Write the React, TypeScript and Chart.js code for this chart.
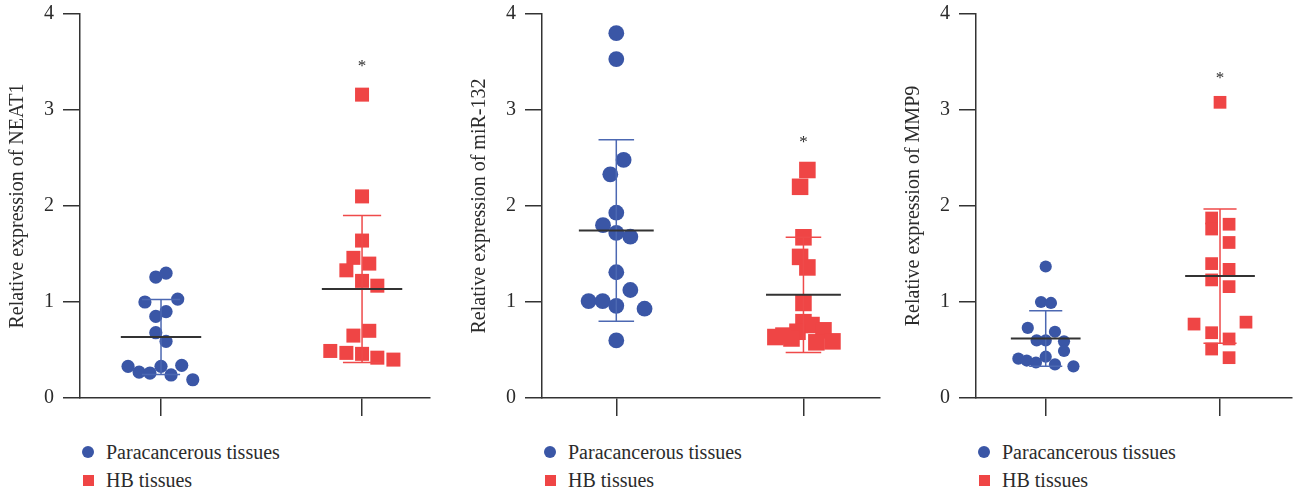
import React, { useEffect, useRef } from "react";
import { Chart, registerables } from "chart.js";

Chart.register(...registerables);

// ---------- data ----------
const groups = ["Paracancerous tissues", "HB tissues"];
const categories = [1, 2];
const yTickValues = [0, 1, 2, 3, 4];
const yTitles = ["Relative expression of NEAT1", "Relative expression of miR-132", "Relative expression of MMP9"];

// NEAT1
const neat1Para = [1.26, 1.3, 1.0, 1.03, 0.85, 0.9, 0.68, 0.59, 0.33, 0.27, 0.26, 0.33, 0.24, 0.34, 0.19];
const neat1ParaSpread = [-0.026, 0.025, -0.08, 0.083, -0.026, 0.025, -0.026, 0.025, -0.164, -0.109, -0.055, 0, 0.05, 0.103, 0.158];
const neat1HB = [3.16, 2.1, 1.64, 1.46, 1.4, 1.33, 1.22, 1.17, 0.7, 0.65, 0.49, 0.47, 0.46, 0.42, 0.4];
const neat1HBSpread = [0, 0, 0, -0.043, 0.036, -0.078, 0, 0.076, 0.036, -0.043, -0.158, -0.078, 0, 0.076, 0.156];
const neat1Mean = [0.635, 1.135];
const neat1SD = [0.39, 0.765];
const neat1Star = 3.49;

// miR-132
const mir132Para = [3.8, 3.53, 2.48, 2.33, 1.93, 1.8, 1.72, 1.68, 1.31, 1.125, 1.01, 1.01, 0.96, 0.93, 0.6];
const mir132ParaSpread = [0, 0, 0.039, -0.032, 0, -0.071, 0, 0.075, 0, 0.075, -0.148, -0.073, 0, 0.151, 0];
const mir132HB = [2.375, 2.2, 1.674, 1.47, 1.36, 0.99, 0.79, 0.76, 0.705, 0.69, 0.635, 0.62, 0.58, 0.59, 0.65];
const mir132HBSpread = [0.021, -0.018, 0, -0.018, 0.021, 0, 0, 0.043, 0.107, -0.032, -0.15, -0.064, 0.069, 0.155, -0.107];
const mir132Mean = [1.745, 1.075];
const mir132SD = [0.945, 0.6];
const mir132Star = 2.7;

// MMP9
const mmp9Para = [1.37, 1.0, 0.99, 0.73, 0.69, 0.6, 0.6, 0.59, 0.49, 0.41, 0.39, 0.37, 0.43, 0.35, 0.33];
const mmp9ParaSpread = [0, -0.027, 0.03, -0.103, 0.053, -0.052, 0, 0.105, 0.105, -0.157, -0.109, -0.056, 0, 0.053, 0.159];
const mmp9HB = [3.08, 1.875, 1.76, 1.81, 1.62, 1.4, 1.34, 1.23, 1.16, 0.77, 0.79, 0.68, 0.615, 0.51, 0.42];
const mmp9HBSpread = [0, -0.048, -0.048, 0.052, 0.052, -0.048, 0.052, -0.048, 0.052, -0.149, 0.149, -0.048, 0.052, -0.048, 0.052];
const mmp9Mean = [0.62, 1.27];
const mmp9SD = [0.29, 0.7];
const mmp9Star = 3.36;

// ---------- styling / layout ----------
const FONT = "'Liberation Serif', 'Times New Roman', serif";
const BLUE = "#3A56A6";
const RED = "#EF4545";
const BAR_COLORS = ["#4C68B2", "#EF4A4A"];
const AXIS = "#333333";
const TEXT = "#2b2b2b";
const FONT_SIZE = 20;

type PanelSpec = {
  title: string;
  para: number[];
  paraSpread: number[];
  hb: number[];
  hbSpread: number[];
  mean: number[];
  sd: number[];
  star: number;
  left: number;
  plotW: number;
  xMin: number;
  xMax: number;
  circleR: number;
  rectR: number;
};

const panels: PanelSpec[] = [
  { title: yTitles[0], para: neat1Para, paraSpread: neat1ParaSpread, hb: neat1HB, hbSpread: neat1HBSpread, mean: neat1Mean, sd: neat1SD, star: neat1Star, left: 0, plotW: 350, xMin: 0.597, xMax: 2.338, circleR: 6.6, rectR: 9.9 },
  { title: yTitles[1], para: mir132Para, paraSpread: mir132ParaSpread, hb: mir132HB, hbSpread: mir132HBSpread, mean: mir132Mean, sd: mir132SD, star: mir132Star, left: 462, plotW: 338, xMin: 0.603, xMax: 2.409, circleR: 7.9, rectR: 11.7 },
  { title: yTitles[2], para: mmp9Para, paraSpread: mmp9ParaSpread, hb: mmp9HB, hbSpread: mmp9HBSpread, mean: mmp9Mean, sd: mmp9SD, star: mmp9Star, left: 896, plotW: 316, xMin: 0.6, xMax: 2.413, circleR: 6.1, rectR: 9.0 },
];

const CANVAS_H = 420;
const AREA_LEFT = 80;
const AREA_TOP = 14;
const AREA_BOTTOM = 398;
const PAD_RIGHT = 2;

function zeroPadding(s: any) {
  s.paddingTop = 0;
  s.paddingBottom = 0;
  s.paddingLeft = 0;
  s.paddingRight = 0;
}

function makeSummaryPlugin(p: PanelSpec) {
  return {
    id: "summaryLines",
    afterDatasetsDraw(chart: any) {
      const xs = chart.scales.x;
      const ys = chart.scales.y;
      const ctx = chart.ctx;
      ctx.save();
      categories.forEach((c, i) => {
        const m = p.mean[i];
        const s = p.sd[i];
        const xc = xs.getPixelForValue(c);
        const capL = xs.getPixelForValue(c - 0.095);
        const capR = xs.getPixelForValue(c + 0.095);
        const yTop = ys.getPixelForValue(m + s);
        const yBot = ys.getPixelForValue(m - s);
        ctx.strokeStyle = BAR_COLORS[i];
        ctx.lineWidth = 1.5;
        ctx.beginPath();
        ctx.moveTo(xc, yTop);
        ctx.lineTo(xc, yBot);
        ctx.moveTo(capL, yTop);
        ctx.lineTo(capR, yTop);
        ctx.moveTo(capL, yBot);
        ctx.lineTo(capR, yBot);
        ctx.stroke();
        const ym = ys.getPixelForValue(m);
        ctx.strokeStyle = AXIS;
        ctx.lineWidth = 2;
        ctx.beginPath();
        ctx.moveTo(xs.getPixelForValue(c - 0.2), ym);
        ctx.lineTo(xs.getPixelForValue(c + 0.2), ym);
        ctx.stroke();
      });
      // significance star over HB group
      ctx.fillStyle = TEXT;
      ctx.font = `17px ${FONT}`;
      ctx.textAlign = "center";
      ctx.textBaseline = "alphabetic";
      ctx.fillText("*", xs.getPixelForValue(categories[1]), ys.getPixelForValue(p.star) + 8);
      ctx.restore();
    },
  };
}

function makeConfig(p: PanelSpec): any {
  return {
    type: "scatter",
    data: {
      datasets: [
        {
          label: groups[0],
          data: p.para.map((v, i) => ({ x: categories[0] + p.paraSpread[i], y: v })),
          pointStyle: "circle",
          pointRadius: p.circleR,
          backgroundColor: BLUE,
          borderWidth: 0,
        },
        {
          label: groups[1],
          data: p.hb.map((v, i) => ({ x: categories[1] + p.hbSpread[i], y: v })),
          pointStyle: "rect",
          pointRadius: p.rectR,
          backgroundColor: RED,
          borderWidth: 0,
        },
      ],
    },
    options: {
      responsive: false,
      animation: false,
      layout: {
        autoPadding: false,
        padding: { top: AREA_TOP, right: PAD_RIGHT, bottom: CANVAS_H - AREA_BOTTOM - 20, left: 0 },
      },
      plugins: { legend: { display: false }, tooltip: { enabled: false } },
      events: [],
      scales: {
        x: {
          type: "linear",
          min: p.xMin,
          max: p.xMax,
          afterBuildTicks: (s: any) => {
            s.ticks = categories.map((v) => ({ value: v }));
          },
          afterFit: (s: any) => {
            s.height = 20;
            zeroPadding(s);
          },
          ticks: { display: false },
          grid: { drawOnChartArea: false, drawTicks: true, tickLength: 18, color: AXIS, lineWidth: 1.5 },
          border: { display: true, color: AXIS, width: 1.5 },
        },
        y: {
          type: "linear",
          min: yTickValues[0],
          max: yTickValues[yTickValues.length - 1],
          afterBuildTicks: (s: any) => {
            s.ticks = yTickValues.map((v) => ({ value: v }));
          },
          afterFit: (s: any) => {
            s.width = AREA_LEFT;
            zeroPadding(s);
          },
          ticks: { padding: 9, color: TEXT, font: { family: FONT, size: FONT_SIZE } },
          grid: { drawOnChartArea: false, drawTicks: true, tickLength: 17, color: AXIS, lineWidth: 1.5 },
          border: { display: true, color: AXIS, width: 1.5 },
          title: {
            display: true,
            text: p.title,
            color: TEXT,
            font: { family: FONT, size: FONT_SIZE },
            padding: { top: 6, bottom: 0 },
          },
        },
      },
    },
    plugins: [makeSummaryPlugin(p)],
  };
}

function Panel({ p }: { p: PanelSpec }) {
  const ref = useRef<HTMLCanvasElement>(null);
  const width = AREA_LEFT + p.plotW + PAD_RIGHT;
  useEffect(() => {
    const chart = new Chart(ref.current as HTMLCanvasElement, makeConfig(p));
    return () => chart.destroy();
  }, [p]);
  return (
    <div style={{ position: "absolute", left: p.left, top: 0 }}>
      <canvas ref={ref} width={width} height={CANVAS_H} style={{ display: "block", width: width, height: CANVAS_H }} />
    </div>
  );
}

function Legend({ left }: { left: number }) {
  const rows = [
    { label: groups[0], color: BLUE, round: true, top: 440 },
    { label: groups[1], color: RED, round: false, top: 468 },
  ];
  return (
    <>
      {rows.map((r) => (
        <div
          key={r.label}
          style={{
            position: "absolute",
            left: left,
            top: r.top,
            height: 24,
            display: "flex",
            alignItems: "center",
            fontFamily: FONT,
            fontSize: 20,
            lineHeight: "24px",
            color: TEXT,
            whiteSpace: "nowrap",
          }}
        >
          <span
            style={{
              display: "inline-block",
              width: r.round ? 12 : 11,
              height: r.round ? 12 : 11,
              borderRadius: r.round ? "50%" : 0,
              background: r.color,
              marginLeft: r.round ? 2 : 2.5,
              marginRight: r.round ? 12 : 12.5,
            }}
          />
          <span>{r.label}</span>
        </div>
      ))}
    </>
  );
}

export default function App() {
  return (
    <div style={{ position: "absolute", left: 0, top: 0, width: 1295, height: 492, overflow: "hidden", background: "#fff" }}>
      {panels.map((p, i) => (
        <Panel key={i} p={p} />
      ))}
      {panels.map((p, i) => (
        <Legend key={"l" + i} left={p.left + AREA_LEFT} />
      ))}
    </div>
  );
}
